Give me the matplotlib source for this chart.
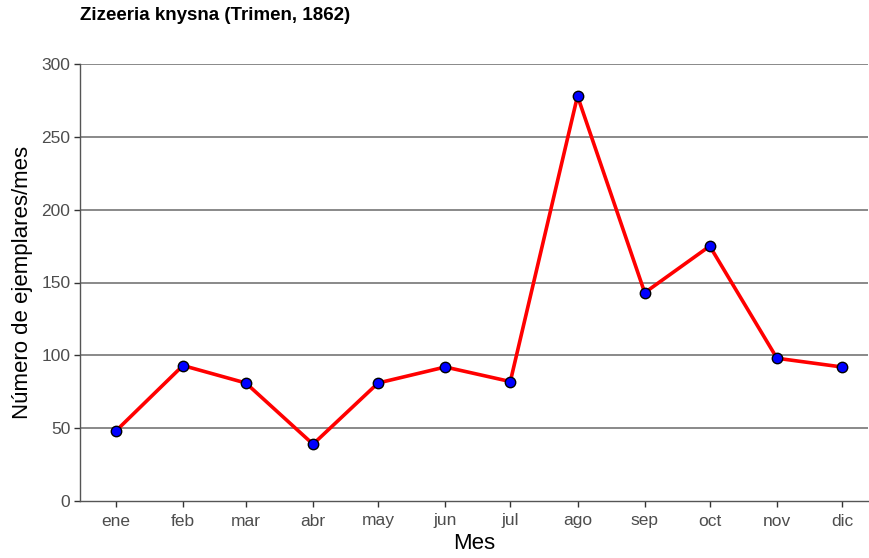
import matplotlib
matplotlib.use("Agg")
import matplotlib.pyplot as plt
import matplotlib.dates as mdates
import numpy as np
import datetime as dt

months = ["ene", "feb", "mar", "abr", "may", "jun", "jul", "ago", "sep", "oct", "nov", "dic"]
counts = [48, 93, 81, 39, 81, 92, 82, 278, 143, 175, 98, 92]
yticks = [0, 50, 100, 150, 200, 250, 300]
title = "Zizeeria knysna (Trimen, 1862)"

plt.rcParams['font.family'] = ['Liberation Sans', 'DejaVu Sans']

dates = [dt.date(2020, i + 1, 15) for i in range(12)]

fig = plt.figure(figsize=(8.7, 5.58), dpi=100)
ax = fig.add_axes([80/870, 57/558, 788/870, 437/558])

for y in yticks[1:]:
    ax.axhline(y, color="#808080", lw=1.3, zorder=1)

ax.plot(dates, counts, color="#ff0000", lw=2.6, zorder=3)
ax.plot(dates, counts, 'o', ms=7.5, mfc="#0000ff", mec="black", mew=1.0, zorder=4)

ax.set_ylim(0, 300)
ax.set_xlim(mdates.date2num(dates[0]) - 16.5, mdates.date2num(dates[-1]) + 12)
ax.set_yticks(yticks)
ax.set_xticks(dates)
ax.set_xticklabels(months)

for s in ["top", "right"]:
    ax.spines[s].set_visible(False)
for s in ["left", "bottom"]:
    ax.spines[s].set_color("#555555")
    ax.spines[s].set_linewidth(1.0)

ax.tick_params(axis="both", colors="#333333", labelcolor="#4d4d4d", labelsize=12.5, length=4, width=1.0)
ax.tick_params(axis="x", pad=5)
ax.tick_params(axis="y", pad=3)

ax.set_xlabel("Mes", fontsize=16, color="black", labelpad=3)
ax.set_ylabel("Número de ejemplares/mes", fontsize=16, color="black", labelpad=6)

fig.text(80/870, 1 - 16/558, title, fontsize=13.5, fontweight="bold", ha="left", va="center")

fig.savefig("out.png", dpi=100)
